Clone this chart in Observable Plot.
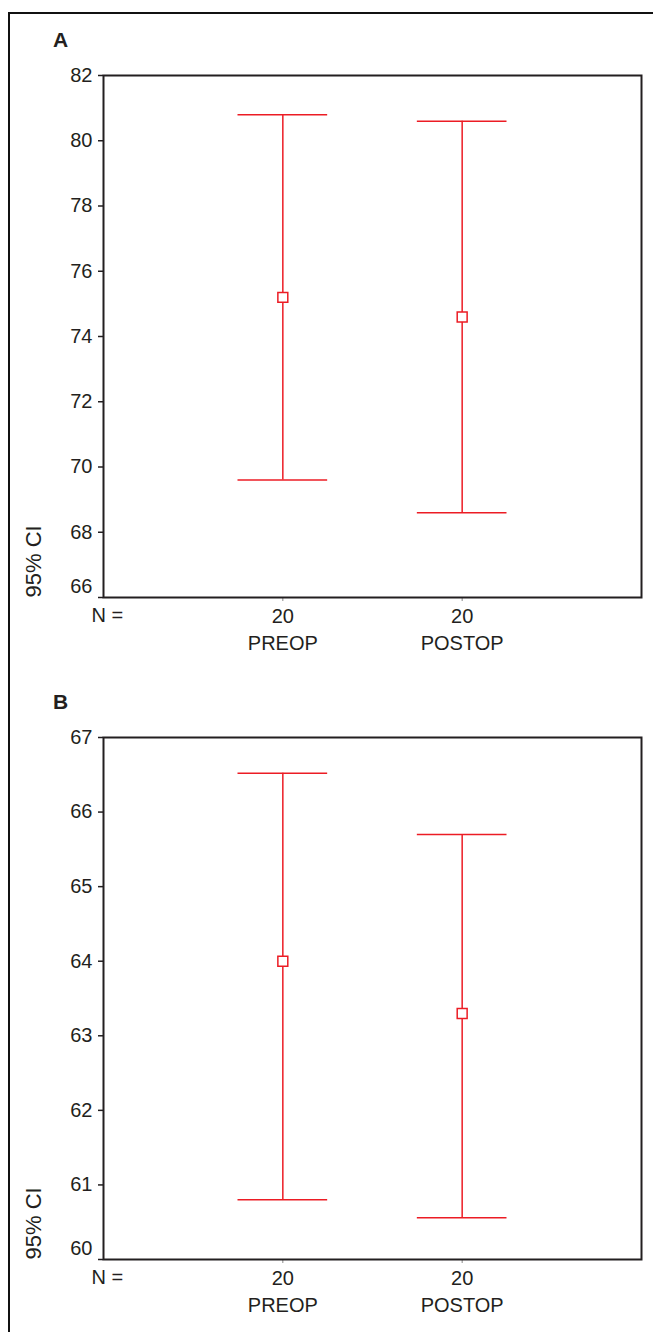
<!DOCTYPE html>
<html>
<head>
<meta charset="utf-8">
<script src="https://cdn.jsdelivr.net/npm/d3@7"></script>
<script src="https://cdn.jsdelivr.net/npm/@observablehq/plot@0.6"></script>
<style>
  body { margin: 0; background: #fff; font-family: "Liberation Sans", Arial, sans-serif; }
  #page { position: relative; width: 653px; height: 1332px; overflow: hidden; }
  #border { position: absolute; left: 8px; top: 12px; width: 700px; height: 1400px;
            border-top: 2px solid #111; border-left: 2px solid #111; }
  .panel { position: absolute; left: 0; }
  .letter { position: absolute; left: 53px; font-weight: bold; font-size: 21px; line-height: 21px; color: #231f20; }
</style>
</head>
<body>
<div id="page"><div id="border"></div></div>
<script>
// Groups and sample sizes (same for both panels)
const groups = ["PREOP", "POSTOP"];
const counts = [20, 20];

// Panel A: means with 95% confidence limits
const meanA  = [75.2, 74.6];
const lowerA = [69.6, 68.6];
const upperA = [80.8, 80.6];
const yTicksA = [66, 68, 70, 72, 74, 76, 78, 80, 82];

// Panel B: means with 95% confidence limits
const meanB  = [64.0, 63.3];
const lowerB = [60.8, 60.56];
const upperB = [66.52, 65.7];
const yTicksB = [60, 61, 62, 63, 64, 65, 66, 67];

const red = "#ec1c24";
const ink = "#231f20";
const capHalf = 0.25; // half-width of the whisker caps, in x units

function panel(letter, top, mean, lower, upper, yTicks) {
  const rows = groups.map((g, i) => ({pos: i + 1, group: g, n: counts[i], mean: mean[i], lo: lower[i], hi: upper[i]}));
  const yMin = yTicks[0];
  const chart = Plot.plot({
    width: 653,
    height: 662,
    marginLeft: 103,
    marginRight: 12,
    marginTop: 75,
    marginBottom: 65,
    style: {fontFamily: "'Liberation Sans', Arial, sans-serif", fontSize: "20px", color: ink, background: "transparent"},
    x: {domain: [0, 3], axis: null},
    y: {domain: [yMin, yTicks[yTicks.length - 1]], axis: null},
    marks: [
      Plot.axisY(yTicks, {tickSize: 5, tickPadding: 6, strokeWidth: 1.5, stroke: ink, fill: ink, label: null,
                          tickFormat: d => d === yMin ? "" : String(d)}),
      // the lowest tick label sits a little above its tick
      Plot.text([yMin], {y: d => d, frameAnchor: "left", textAnchor: "end", dx: -11, dy: -11, fill: ink, fontSize: 20}),
      Plot.axisX(rows.map(d => d.pos), {tickSize: 4, tickPadding: 2, stroke: "#888", strokeWidth: 1, fill: ink, label: null,
                          lineHeight: 1.35, tickFormat: p => `${counts[p - 1]}\n${groups[p - 1]}`}),
      Plot.text(["N ="], {frameAnchor: "bottom-left", textAnchor: "start", lineAnchor: "middle", dx: -12, dy: 18, fill: ink, fontSize: 20}),
      Plot.text(["95% CI"], {frameAnchor: "bottom-left", textAnchor: "start", lineAnchor: "middle", rotate: -90, dx: -70, fill: ink, fontSize: 22}),
      Plot.ruleX(rows, {x: "pos", y1: "lo", y2: "hi", stroke: red, strokeWidth: 1.5}),
      Plot.ruleY(rows, {y: "hi", x1: d => d.pos - capHalf, x2: d => d.pos + capHalf, stroke: red, strokeWidth: 1.5}),
      Plot.ruleY(rows, {y: "lo", x1: d => d.pos - capHalf, x2: d => d.pos + capHalf, stroke: red, strokeWidth: 1.5}),
      Plot.dot(rows, {x: "pos", y: "mean", symbol: "square", r: 5.6, stroke: red, fill: "white", strokeWidth: 1.5}),
      Plot.frame({stroke: ink, strokeWidth: 2})
    ]
  });
  const wrap = document.createElement("div");
  wrap.className = "panel";
  wrap.style.top = top + "px";
  wrap.appendChild(chart);
  const lab = document.createElement("div");
  lab.className = "letter";
  lab.style.top = (top + 29) + "px";
  lab.textContent = letter;
  const page = document.getElementById("page");
  page.appendChild(wrap);
  page.appendChild(lab);
}

panel("A", 0, meanA, lowerA, upperA, yTicksA);
panel("B", 662, meanB, lowerB, upperB, yTicksB);
</script>
</body>
</html>
